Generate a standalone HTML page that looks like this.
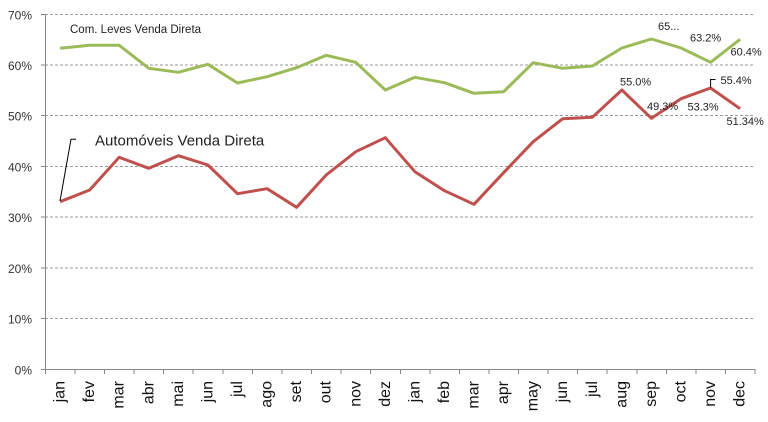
<!DOCTYPE html>
<html><head><meta charset="utf-8"><style>
html,body{margin:0;padding:0;background:#fff;}
svg{display:block;font-family:"Liberation Sans",sans-serif;}
</style></head><body>
<svg width="768" height="422" viewBox="0 0 768 422" xmlns="http://www.w3.org/2000/svg">
<rect width="768" height="422" fill="#fff"/>
<g stroke="#9a9a9a" stroke-width="1" stroke-dasharray="3,2" fill="none">
<line x1="45" y1="14.5" x2="755" y2="14.5"/>
<line x1="45" y1="65" x2="755" y2="65"/>
<line x1="45" y1="115.5" x2="755" y2="115.5"/>
<line x1="45" y1="166.5" x2="755" y2="166.5"/>
<line x1="45" y1="217" x2="755" y2="217"/>
<line x1="45" y1="268" x2="755" y2="268"/>
<line x1="45" y1="318.5" x2="755" y2="318.5"/>
</g>
<g stroke="#868686" stroke-width="1" fill="none">
<line x1="45.5" y1="14" x2="45.5" y2="369"/>
<line x1="45" y1="369.5" x2="755" y2="369.5"/>
<line x1="41" y1="14.5" x2="45" y2="14.5"/>
<line x1="41" y1="65" x2="45" y2="65"/>
<line x1="41" y1="115.5" x2="45" y2="115.5"/>
<line x1="41" y1="166.5" x2="45" y2="166.5"/>
<line x1="41" y1="217" x2="45" y2="217"/>
<line x1="41" y1="268" x2="45" y2="268"/>
<line x1="41" y1="318.5" x2="45" y2="318.5"/>
<line x1="41" y1="369.5" x2="45" y2="369.5"/>
<path d="M45.5 369v5M75 369v5M104.5 369v5M134 369v5M163.5 369v5M193 369v5M223 369v5M252.5 369v5M282 369v5M311.5 369v5M341 369v5M370.5 369v5M400.5 369v5M430 369v5M459.5 369v5M489 369v5M518.5 369v5M548 369v5M577.5 369v5M607 369v5M637 369v5M666.5 369v5M696 369v5M725.5 369v5M755 369v5"/>
</g>
<g font-size="12" fill="#333" text-anchor="end">
<text x="32" y="19.5">70%</text>
<text x="32" y="70">60%</text>
<text x="32" y="120.5">50%</text>
<text x="32" y="171.5">40%</text>
<text x="32" y="222">30%</text>
<text x="32" y="273">20%</text>
<text x="32" y="323.5">10%</text>
<text x="32" y="374.5">0%</text>
</g>
<polyline fill="none" stroke="#9BBB59" stroke-width="3" stroke-linejoin="round" points="60.1,48.3 89.7,45.3 119.2,45.3 148.8,68.3 178.4,72.3 207.9,64.3 237.5,83 267.1,76.7 296.6,67.7 326.2,55.3 355.8,62.3 385.3,90 414.9,77.3 444.5,82.7 474,93.3 503.6,91.7 533.2,62.7 562.7,68.3 592.3,66 621.9,48 651.4,39 681,48 710.6,62.3 740.1,39.3"/>
<polyline fill="none" stroke="#C0504D" stroke-width="3" stroke-linejoin="round" points="60.1,201.7 89.7,190 119.2,157.3 148.8,168.3 178.4,155.7 207.9,165 237.5,193.7 267.1,188.7 296.6,207.3 326.2,175 355.8,151.7 385.3,137.7 414.9,171.7 444.5,190.7 474,204.3 503.6,172.7 533.2,141.7 562.7,118.7 592.3,117.3 621.9,90 651.4,118.3 681,98.7 710.6,88 740.1,108.7"/>
<polyline fill="none" stroke="#000" stroke-width="1" points="60,201 71,139.3 76,139.3"/>
<polyline fill="none" stroke="#000" stroke-width="1" points="710.6,87.5 710.6,79.5 715.5,79.5"/>
<text x="70" y="33" font-size="11.5" fill="#222">Com. Leves Venda Direta</text>
<text x="95" y="145.5" font-size="15" fill="#222">Automóveis Venda Direta</text>
<g font-size="11" fill="#222">
<text x="658" y="30">65...</text>
<text x="690" y="41.7">63.2%</text>
<text x="730.5" y="55.7">60.4%</text>
<text x="620" y="85.3">55.0%</text>
<text x="720.5" y="84">55.4%</text>
<text x="647" y="110">49.3%</text>
<text x="687.5" y="110.7">53.3%</text>
<text x="726.5" y="125">51.34%</text>
</g>
<g font-size="16" fill="#111" text-anchor="end">
<text transform="translate(64.6,381) rotate(-90)">jan</text>
<text transform="translate(94.2,381) rotate(-90)">fev</text>
<text transform="translate(123.7,381) rotate(-90)">mar</text>
<text transform="translate(153.3,381) rotate(-90)">abr</text>
<text transform="translate(182.9,381) rotate(-90)">mai</text>
<text transform="translate(212.4,381) rotate(-90)">jun</text>
<text transform="translate(242,381) rotate(-90)">jul</text>
<text transform="translate(271.6,381) rotate(-90)">ago</text>
<text transform="translate(301.1,381) rotate(-90)">set</text>
<text transform="translate(330.7,381) rotate(-90)">out</text>
<text transform="translate(360.3,381) rotate(-90)">nov</text>
<text transform="translate(389.8,381) rotate(-90)">dez</text>
<text transform="translate(419.4,381) rotate(-90)">jan</text>
<text transform="translate(449,381) rotate(-90)">feb</text>
<text transform="translate(478.5,381) rotate(-90)">mar</text>
<text transform="translate(508.1,381) rotate(-90)">apr</text>
<text transform="translate(537.7,381) rotate(-90)">may</text>
<text transform="translate(567.2,381) rotate(-90)">jun</text>
<text transform="translate(596.8,381) rotate(-90)">jul</text>
<text transform="translate(626.4,381) rotate(-90)">aug</text>
<text transform="translate(655.9,381) rotate(-90)">sep</text>
<text transform="translate(685.5,381) rotate(-90)">oct</text>
<text transform="translate(715.1,381) rotate(-90)">nov</text>
<text transform="translate(744.6,381) rotate(-90)">dec</text>
</g>
</svg>
</body></html>
